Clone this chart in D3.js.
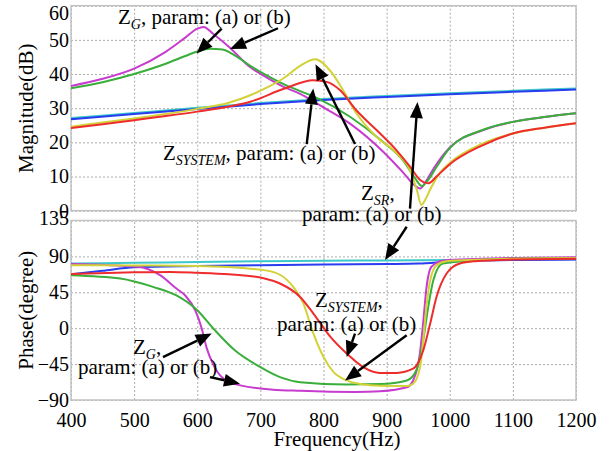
<!DOCTYPE html>
<html>
<head>
<meta charset="utf-8">
<script src="https://cdn.jsdelivr.net/npm/d3@7"></script>
<style>
  body { margin: 0; background: #fff; }
  svg { display: block; font-family: "Liberation Serif", "Times New Roman", serif; }
</style>
</head>
<body>
<script>
// frequency ticks and value ticks
const freqTicks = [400, 500, 600, 700, 800, 900, 1000, 1100, 1200];
const magTicks = [0, 10, 20, 30, 40, 50, 60];
const phaseTicks = [-90, -45, 0, 45, 90, 135];

// magnitude (dB) curves, [Hz, dB]
const magZG_a = [[400,36.5],[450,38.6],[500,41.6],[550,46.5],[580,50.5],[600,53.3],[610,53.8],[625,51.8],[650,48],[684,42],[707,39.3],[736,36.3],[763,34.2],[789,31.4],[842,25.5],[895,17.2],[927,11],[945,7.3],[953,6.5],[962,8.5],[975,12.5],[1000,18.5],[1053,23.6],[1100,26],[1150,27.4],[1200,28.5]];
const magZG_b = [[400,35.8],[450,37.6],[500,40],[550,43],[580,45.2],[600,46.6],[620,47.4],[640,47.2],[660,45.4],[684,42.4],[710,39.6],[736,37.1],[763,35],[789,33],[842,27.5],[895,20],[927,14.5],[945,9.5],[956,7.2],[965,8.8],[978,12.5],[1000,18.3],[1053,23.7],[1100,26],[1150,27.4],[1200,28.5]];
const magZSYS_a = [[400,24.2],[450,25.3],[500,26.5],[550,27.7],[600,29],[650,30.5],[684,31.9],[736,35.6],[784,38.2],[805,37.7],[826,35.3],[852,29.4],[884,23.6],[916,17.6],[937,12.9],[953,9],[966,8],[979,10],[1000,13.6],[1050,19],[1100,22.6],[1150,24.3],[1200,25.6]];
const magZSYS_b = [[400,24.6],[450,25.8],[500,27],[550,28.3],[600,29.8],[650,31.6],[684,33.8],[710,36],[736,38.7],[763,42.4],[787,44.3],[810,41.1],[831,35.3],[852,28.5],[884,21.6],[916,16.8],[937,11.9],[948,6],[955,1.7],[962,3.5],[969,6.2],[984,11],[1000,14],[1050,19.5],[1100,22.6],[1150,24.3],[1200,25.6]];
const magZSR_a = [[400,26.8],[500,28.3],[600,29.8],[700,31.2],[800,32.4],[900,33.3],[1000,34.1],[1100,34.8],[1200,35.5]];
const magZSR_b = [[400,27.1],[500,28.6],[600,30.1],[700,31.5],[800,32.7],[900,33.6],[1000,34.4],[1100,35.1],[1200,35.8]];

// phase (degree) curves, [Hz, deg]
const phZG_a = [[400,80.5],[505,77],[541,66.5],[567,49.7],[581,41],[597,22],[607,0],[615,-25],[625,-45],[640,-62],[670,-72],[720,-77],[763,-78.5],[850,-80],[890,-79],[932,-74],[942,-65.5],[953,-30],[958,8],[963,50],[971,77],[990,85],[1100,88],[1200,89]];
const phZG_b = [[400,66.5],[478,62.3],[530,51.8],[567,41],[600,22.5],[625,0],[660,-28],[700,-48.8],[731,-61.3],[763,-67.6],[837,-70.5],[890,-70],[932,-65.5],[947,-53],[958,-15],[966,27],[974,60],[989,81],[1100,87],[1200,88]];
const phZSYS_a = [[400,68],[500,70],[557,70.6],[600,69.5],[650,67.5],[705,62.7],[731,56],[763,39.2],[784,18.4],[811,-11],[837,-32],[863,-48.8],[889,-56],[916,-56],[942,-50.8],[958,-27.8],[969,5.8],[979,39.2],[995,68.6],[1016,81.2],[1041,84],[1100,86],[1200,87]];
const phZSYS_b = [[400,79],[500,78.7],[600,78],[705,72.8],[731,67],[752,51.8],[768,31],[784,-6.8],[800,-36],[816,-55],[837,-65.5],[863,-70.5],[890,-72],[932,-72.6],[942,-69.7],[953,-48.8],[958,-15],[963,26.6],[969,60],[979,79],[995,84],[1100,87],[1200,88]];
const phZSR_a = [[400,81],[500,82],[600,83],[700,84],[800,84.5],[900,85],[1000,85.5],[1100,86],[1200,86.5]];
const phZSR_b = [[400,67.5],[450,72],[500,76.5],[600,78],[700,79],[800,80],[900,80.5],[950,81],[1000,83.5],[1100,85.5],[1200,86]];

const colors = {
  magenta: "#c73ccf", green: "#3aae3a", yellow: "#d2d238",
  red: "#ee2c2c", blue: "#2a3cf0", cyan: "#3cc8c8"
};

const W = 609, H = 451;
const svg = d3.select("body").append("svg")
  .attr("width", W).attr("height", H);

const x = d3.scaleLinear().domain([400, 1200]).range([71, 576]);
const yMag = d3.scaleLinear().domain([0, 60]).range([210.7, 5.7]);
const yPh = d3.scaleLinear().domain([-90, 135]).range([400, 220.5]);

function panel(y, ticks, id) {
  const [y0, y1] = y.range();
  const g = svg.append("g");
  svg.append("clipPath").attr("id", id)
    .append("rect").attr("x", x(400)).attr("y", y1)
    .attr("width", x(1200) - x(400)).attr("height", y0 - y1);

  // dotted grid
  g.append("g")
    .attr("transform", `translate(0,${y0})`)
    .call(d3.axisBottom(x).tickValues(freqTicks).tickSize(-(y0 - y1)).tickFormat(""))
    .call(s => s.select(".domain").remove())
    .selectAll("line").attr("stroke", "#ababab").attr("stroke-dasharray", "2,2");
  g.append("g")
    .attr("transform", `translate(${x(400)},0)`)
    .call(d3.axisLeft(y).tickValues(ticks).tickSize(-(x(1200) - x(400))).tickFormat(""))
    .call(s => s.select(".domain").remove())
    .selectAll("line").attr("stroke", "#ababab").attr("stroke-dasharray", "2,2");

  g.append("rect")
    .attr("x", x(400)).attr("y", y1)
    .attr("width", x(1200) - x(400)).attr("height", y0 - y1)
    .attr("fill", "none").attr("stroke", "#c2c2c2").attr("stroke-width", 1.5);

  // value labels
  const ax = g.append("g")
    .attr("transform", `translate(${x(400) - 2},0)`)
    .call(d3.axisLeft(y).tickValues(ticks).tickSize(0).tickPadding(0));
  ax.select(".domain").remove();
  ax.selectAll("text")
    .attr("font-family", "Liberation Serif").attr("font-size", 20).attr("fill", "#000");
  return g;
}

const gMag = panel(yMag, magTicks, "clipMag");
gMag.selectAll(".tick text").filter(d => d === 60).attr("dy", "0.68em");
const gPh = panel(yPh, phaseTicks, "clipPh");
gPh.selectAll(".tick text").filter(d => d === 135).attr("dy", "0.2em");

// frequency labels
const xa = svg.append("g")
  .attr("transform", `translate(0,${yPh(-90)})`)
  .call(d3.axisBottom(x).tickValues(freqTicks).tickFormat(d3.format("d")).tickSize(0).tickPadding(13));
xa.select(".domain").remove();
xa.selectAll("text")
  .attr("font-family", "Liberation Serif").attr("font-size", 20).attr("fill", "#000");

// axis titles
svg.append("text")
  .attr("text-anchor", "middle")
  .attr("transform", `translate(33,${(yMag(0) + yMag(60)) / 2}) rotate(-90)`)
  .attr("font-size", 21)
  .text("Magnitude(dB)");
svg.append("text")
  .attr("text-anchor", "middle")
  .attr("transform", `translate(33,${(yPh(-90) + yPh(135)) / 2}) rotate(-90)`)
  .attr("font-size", 21)
  .text("Phase(degree)");
svg.append("text")
  .attr("text-anchor", "middle")
  .attr("x", 337).attr("y", 446)
  .attr("font-size", 21)
  .text("Frequency(Hz)");

// curves
function draw(y, clip, series) {
  const line = d3.line().x(d => x(d[0])).y(d => y(d[1])).curve(d3.curveMonotoneX);
  svg.append("g").attr("clip-path", `url(#${clip})`)
    .selectAll("path").data(series).enter().append("path")
    .attr("d", s => line(s.data))
    .attr("fill", "none")
    .attr("stroke", s => s.color)
    .attr("stroke-width", 2);
}
draw(yMag, "clipMag", [
  {data: magZSR_b, color: colors.cyan},
  {data: magZSR_a, color: colors.blue},
  {data: magZG_a, color: colors.magenta},
  {data: magZG_b, color: colors.green},
  {data: magZSYS_b, color: colors.yellow},
  {data: magZSYS_a, color: colors.red}
]);
draw(yPh, "clipPh", [
  {data: phZSR_a, color: colors.cyan},
  {data: phZSR_b, color: colors.blue},
  {data: phZG_a, color: colors.magenta},
  {data: phZG_b, color: colors.green},
  {data: phZSYS_b, color: colors.yellow},
  {data: phZSYS_a, color: colors.red}
]);

// annotations: arrows from tail to head, in data units
const arrows = [
  {y: yMag, from: [638.7, 53.3], to: [599, 46.0]},
  {y: yMag, from: [727.9, 53.4], to: [651.9, 47.3]},
  {y: yMag, from: [773.4, 19.5], to: [783.8, 35.8]},
  {y: yMag, from: [849.9, 19.5], to: [787.3, 42.9]},
  {y: yMag, from: [937, 0.6], to: [948.9, 31.8]},
  {y: yPh, from: [931.8, 127.2], to: [897.4, 85.4]},
  {y: yPh, from: [849.9, -6.8], to: [836.7, -36.2]},
  {y: yPh, from: [931.8, -8.9], to: [834.1, -65.5]},
  {y: yPh, from: [545.7, -36.2], to: [622.9, -6.8]},
  {y: yPh, from: [620.2, -61.3], to: [667.7, -69.6]}
];
const ag = svg.append("g");
arrows.forEach(a => {
  const x0 = x(a.from[0]), y0 = a.y(a.from[1]);
  const x1 = x(a.to[0]), y1 = a.y(a.to[1]);
  const ang = Math.atan2(y1 - y0, x1 - x0);
  const L = 16, Wd = 6.5;
  const bx = x1 - L * Math.cos(ang), by = y1 - L * Math.sin(ang);
  ag.append("line")
    .attr("x1", x0).attr("y1", y0).attr("x2", bx).attr("y2", by)
    .attr("stroke", "#000").attr("stroke-width", 2.4);
  ag.append("path")
    .attr("d", `M${x1},${y1}L${bx + Wd * Math.sin(ang)},${by - Wd * Math.cos(ang)}L${bx - Wd * Math.sin(ang)},${by + Wd * Math.cos(ang)}Z`)
    .attr("fill", "#000");
});

// labels: [name, subscript, rest]
const labels = [
  {y: yMag, at: [474.5, 54.6], sub: "G", rest: ", param: (a) or (b)"},
  {y: yMag, at: [545.7, 14.8], sub: "SYSTEM", rest: ", param: (a) or (b)"},
  {y: yMag, at: [859.4, 3.1], sub: "SR", rest: ","},
  {y: yMag, at: [766, -3.0], sub: null, rest: "param: (a) or (b)"},
  {y: yPh, at: [786.5, 26.3], sub: "SYSTEM", rest: ","},
  {y: yPh, at: [726.3, -3.9], sub: null, rest: "param: (a) or (b)"},
  {y: yPh, at: [498.2, -32.8], sub: "G", rest: ","},
  {y: yPh, at: [411.1, -57.9], sub: null, rest: "param: (a) or (b)"}
];
labels.forEach(l => {
  const t = svg.append("text")
    .attr("x", x(l.at[0])).attr("y", l.y(l.at[1]))
    .attr("font-size", 21).attr("fill", "#000");
  if (l.sub) {
    t.append("tspan").text("Z");
    t.append("tspan").attr("font-size", 14).attr("font-style", "italic").attr("dy", 5).text(l.sub);
    t.append("tspan").attr("dy", -5).text(l.rest);
  } else {
    t.text(l.rest);
  }
});
</script>
</body>
</html>
